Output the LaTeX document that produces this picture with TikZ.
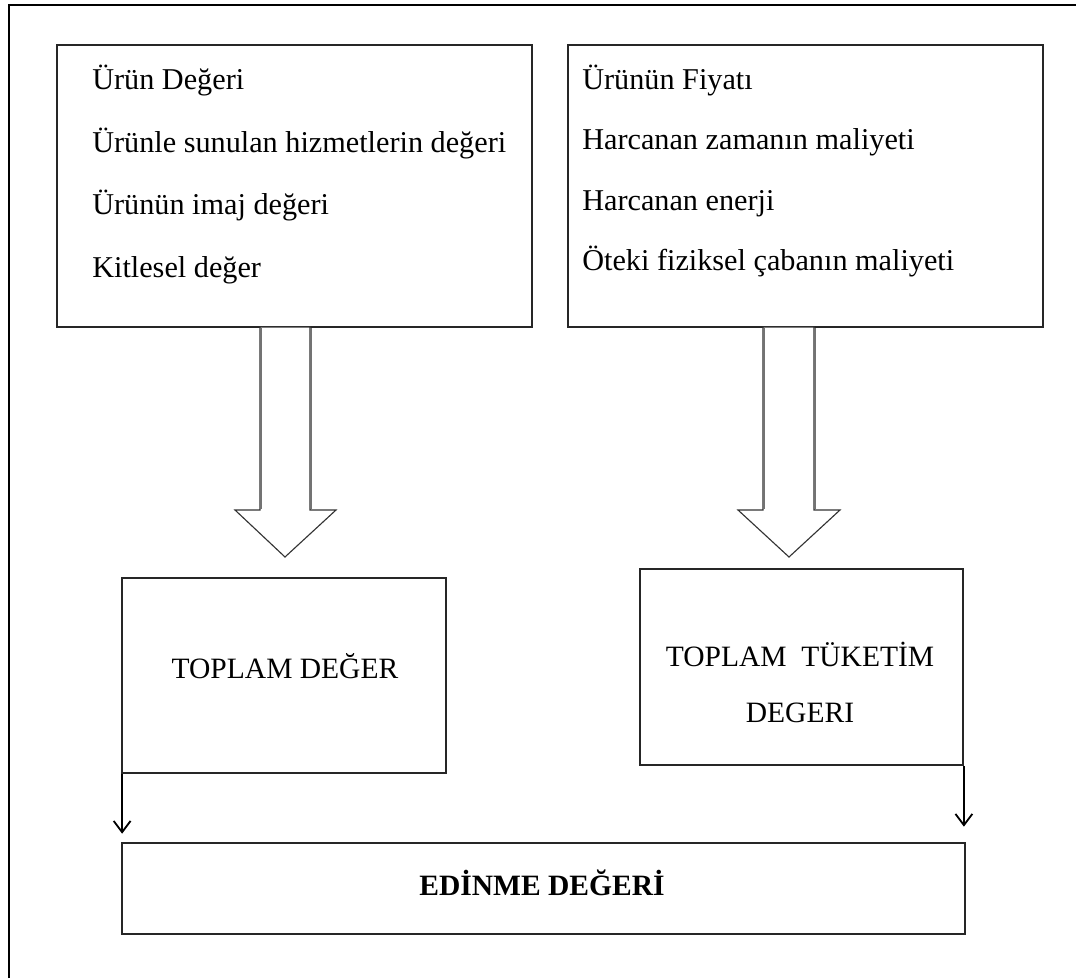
\documentclass[tikz,border=0pt]{standalone}
\usepackage{fontspec}
\setmainfont{Liberation Serif}
\usetikzlibrary{arrows.meta,calc}

\tikzset{
  box/.style={draw=black!85,line width=1.2pt,rectangle,inner sep=0pt},
  item/.style={anchor=base west,inner sep=0pt,font=\fontsize{21.5}{24}\selectfont},
  boxtext/.style={anchor=base,inner sep=0pt,font=\fontsize{21}{24}\selectfont},
  hollow/.style={draw=black!80,line width=0.8pt,fill=white,line join=miter},
  shaft/.style={draw=black!55,line width=1.8pt},
  smallarrow/.style={-{Straight Barb[length=8pt,width=12pt,line width=1.3pt]},line width=1.1pt}
}

\begin{document}
\begin{tikzpicture}[x=0.025cm,y=-0.025cm]
    \useasboundingbox (0,0) rectangle (1076,978);
    % outer frame
    \draw[line width=1.6pt] (9,978) -- (9,5) -- (1076,5);
    % upper boxes
    \node[box,minimum width=11.875cm,minimum height=7.05cm] (worth) at (294.5,186) {};
    \node[box,minimum width=11.875cm,minimum height=7.05cm] (cost) at (805.5,186) {};
    % value items
    \node[item] (w1) at (92,90) {Ürün Değeri};
    \node[item] (w2) at (92,153) {Ürünle sunulan hizmetlerin değeri};
    \node[item] (w3) at (92,215) {Ürünün imaj değeri};
    \node[item] (w4) at (92,277) {Kitlesel değer};
    % cost items
    \node[item] (c1) at (582,90) {Ürünün Fiyatı};
    \node[item] (c2) at (582,150) {Harcanan zamanın maliyeti};
    \node[item] (c3) at (582,210) {Harcanan enerji};
    \node[item] (c4) at (582,270) {Öteki fiziksel çabanın maliyeti};
    % hollow arrows
    \draw[hollow] (260,327) -- (260,510) -- (235,510) -- (285,557) -- (336,510) -- (310,510) -- (310,327) -- cycle;
    \draw[shaft] (261,328) -- (261,509) (311,328) -- (311,509);
    \draw[hollow] (763,327) -- (763,510) -- (738,510) -- (789,557) -- (840,510) -- (814,510) -- (814,327) -- cycle;
    \draw[shaft] (764,328) -- (764,509) (815,328) -- (815,509);
    % totals
    \node[box,minimum width=8.1cm,minimum height=4.875cm] (tworth) at (284,675.5) {};
    \node[boxtext] (twt) at (285,678) {TOPLAM DEĞER};
    \node[box,minimum width=8.075cm,minimum height=4.9cm] (tcost) at (801.5,667) {};
    \node[boxtext] (tct1) at (800,666) {TOPLAM~~TÜKETİM};
    \node[boxtext] (tct2) at (800,722) {DEGERI};
    % result
    \node[box,minimum width=21.075cm,minimum height=2.275cm] (gain) at (543.5,888.5) {};
    \node[boxtext,font=\fontsize{21}{24}\selectfont\bfseries] (gt) at (542,895) {EDİNME DEĞERİ};
    % small arrows
    \coordinate (lstart) at ($(tworth.south west)+(1,0)$);
    \draw[smallarrow,shorten >=6pt] (lstart) -- (lstart |- gain.north);
    \draw[smallarrow,shorten >=11pt] (tcost.south east) -- (tcost.south east |- gain.north);
\end{tikzpicture}
\end{document}
